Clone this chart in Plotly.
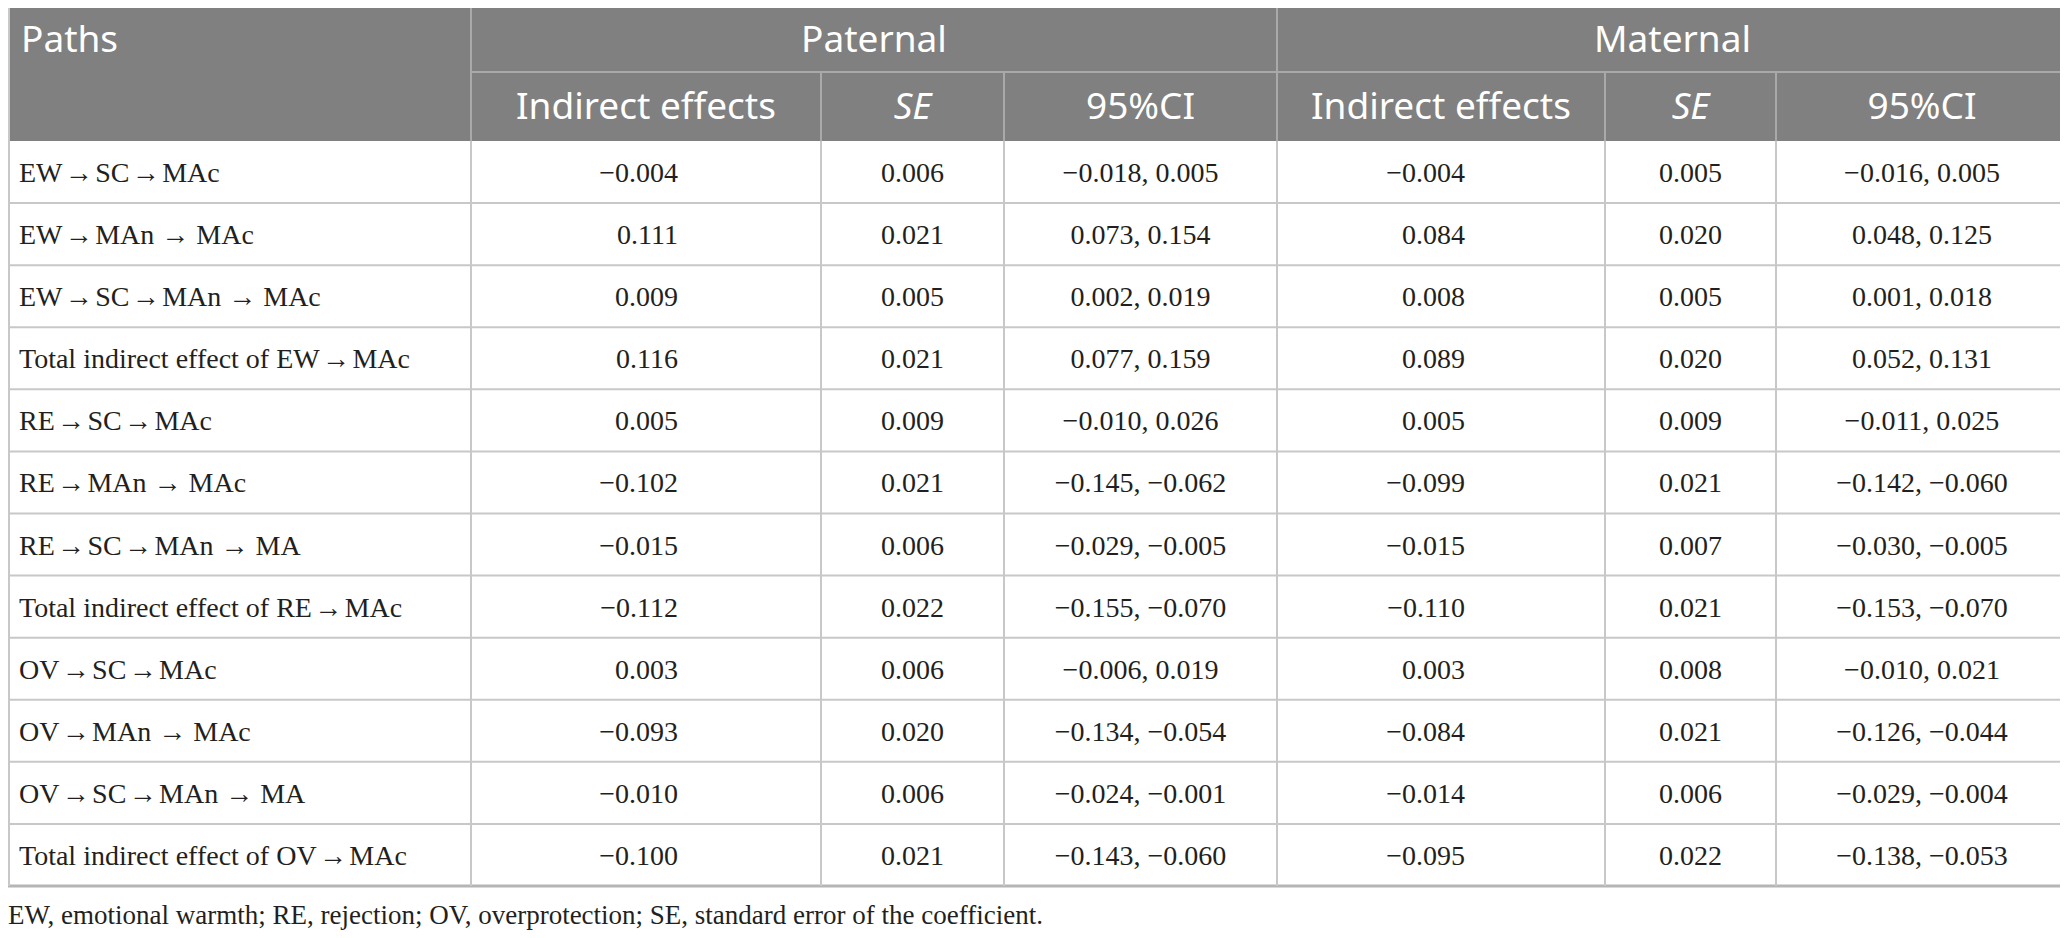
import plotly.graph_objects as go

# ---- table contents ----
A = "\u200a\u2192\u200a"   # tight arrow
B = " \u2192 "             # loose arrow
paths = [
    "EW" + A + "SC" + A + "MAc",
    "EW" + A + "MAn" + B + "MAc",
    "EW" + A + "SC" + A + "MAn" + B + "MAc",
    "Total indirect effect of EW" + A + "MAc",
    "RE" + A + "SC" + A + "MAc",
    "RE" + A + "MAn" + B + "MAc",
    "RE" + A + "SC" + A + "MAn" + B + "MA",
    "Total indirect effect of RE" + A + "MAc",
    "OV" + A + "SC" + A + "MAc",
    "OV" + A + "MAn" + B + "MAc",
    "OV" + A + "SC" + A + "MAn" + B + "MA",
    "Total indirect effect of OV" + A + "MAc",
]
pat_effect = ["−0.004", "0.111", "0.009", "0.116", "0.005", "−0.102",
              "−0.015", "−0.112", "0.003", "−0.093", "−0.010", "−0.100"]
pat_se = ["0.006", "0.021", "0.005", "0.021", "0.009", "0.021",
          "0.006", "0.022", "0.006", "0.020", "0.006", "0.021"]
pat_ci = ["−0.018, 0.005", "0.073, 0.154", "0.002, 0.019", "0.077, 0.159",
          "−0.010, 0.026", "−0.145, −0.062", "−0.029, −0.005", "−0.155, −0.070",
          "−0.006, 0.019", "−0.134, −0.054", "−0.024, −0.001", "−0.143, −0.060"]
mat_effect = ["−0.004", "0.084", "0.008", "0.089", "0.005", "−0.099",
              "−0.015", "−0.110", "0.003", "−0.084", "−0.014", "−0.095"]
mat_se = ["0.005", "0.020", "0.005", "0.020", "0.009", "0.021",
          "0.007", "0.021", "0.008", "0.021", "0.006", "0.022"]
mat_ci = ["−0.016, 0.005", "0.048, 0.125", "0.001, 0.018", "0.052, 0.131",
          "−0.011, 0.025", "−0.142, −0.060", "−0.030, −0.005", "−0.153, −0.070",
          "−0.010, 0.021", "−0.126, −0.044", "−0.029, −0.004", "−0.138, −0.053"]

groups = ["Paternal", "Maternal"]
sub_headers = ["Indirect effects", "<i>SE</i>", "95%CI"]
footnote = ("EW, emotional warmth; RE, rejection; OV, overprotection; "
            "SE, standard error of the coefficient.")

# ---- layout (pixels) ----
W, H = 2068, 938
OFF = 8  # page body margin, axes shifted so coords match page pixels
col_edges = [0, 471, 821, 1004, 1277, 1605, 1776, 2068]
head_top, head_mid, head_bot = 4, 72, 141
table_bot = 886
n_rows = len(paths)
row_h = (table_bot - head_bot) / n_rows
TY = 3  # small nudge so glyphs sit visually centred
row_y = [head_bot + row_h * (i + 0.5) + TY for i in range(n_rows)]

HEAD_BG = "#808080"
HEAD_LINE = "#a9a9a9"
GRID = "#c8c8c8"
TXT = "#231f20"
head_font = dict(family="Noto Sans", size=37, color="white")
body_font = dict(family="Liberation Serif", size=28, color=TXT)

fig = go.Figure()
shapes = []

# header background
shapes.append(dict(type="rect", x0=0, x1=W, y0=head_top, y1=head_bot,
                   fillcolor=HEAD_BG, line_width=0, layer="below"))
shapes.append(dict(type="line", x0=0, x1=W, y0=head_top, y1=head_top,
                   line=dict(color=GRID, width=2)))
shapes.append(dict(type="line", x0=col_edges[1], x1=W, y0=head_mid, y1=head_mid,
                   line=dict(color=HEAD_LINE, width=2)))
for x in (col_edges[1], col_edges[4]):
    shapes.append(dict(type="line", x0=x, x1=x, y0=head_top, y1=head_bot,
                       line=dict(color=HEAD_LINE, width=2)))
for x in (col_edges[2], col_edges[3], col_edges[5], col_edges[6]):
    shapes.append(dict(type="line", x0=x, x1=x, y0=head_mid, y1=head_bot,
                       line=dict(color=HEAD_LINE, width=2)))

# body grid
for i in range(1, n_rows):
    y = head_bot + row_h * i
    shapes.append(dict(type="line", x0=0, x1=W, y0=y, y1=y,
                       line=dict(color=GRID, width=2)))
shapes.append(dict(type="line", x0=0, x1=W, y0=table_bot, y1=table_bot,
                   line=dict(color="#b5b5b5", width=3)))
for x in col_edges[1:-1]:
    shapes.append(dict(type="line", x0=x, x1=x, y0=head_bot, y1=table_bot,
                       line=dict(color=GRID, width=2)))
for x in (OFF + 1, W - 1):
    shapes.append(dict(type="line", x0=x, x1=x, y0=head_top, y1=table_bot,
                       line=dict(color=GRID, width=2)))

# header texts
fig.add_trace(go.Scatter(x=[21], y=[40 + TY], text=["Paths"], mode="text",
                         textposition="middle right", textfont=head_font))
grp_x = [(col_edges[1] + col_edges[4]) / 2, (col_edges[4] + col_edges[7]) / 2]
fig.add_trace(go.Scatter(x=grp_x, y=[40 + TY] * 2, text=groups, mode="text",
                         textposition="middle center", textfont=head_font))
sub_x = [(col_edges[k] + col_edges[k + 1]) / 2 for k in range(1, 7)]
fig.add_trace(go.Scatter(x=sub_x, y=[107 + TY] * 6, text=sub_headers * 2,
                         mode="text", textposition="middle center",
                         textfont=head_font))

# body texts
fig.add_trace(go.Scatter(x=[19] * n_rows, y=row_y, text=paths, mode="text",
                         textposition="middle right", textfont=body_font))
for xr, col in ((678, pat_effect), (1465, mat_effect)):
    fig.add_trace(go.Scatter(x=[xr] * n_rows, y=row_y, text=col, mode="text",
                             textposition="middle left", textfont=body_font))
for k, col in ((2, pat_se), (3, pat_ci), (5, mat_se), (6, mat_ci)):
    xc = (col_edges[k] + col_edges[k + 1]) / 2
    fig.add_trace(go.Scatter(x=[xc] * n_rows, y=row_y, text=col, mode="text",
                             textposition="middle center", textfont=body_font))

# footnote
fig.add_trace(go.Scatter(x=[OFF], y=[917], text=[footnote], mode="text",
                         textposition="middle right", cliponaxis=False,
                         textfont=dict(family="Liberation Serif", size=27, color=TXT)))

fig.update_layout(
    width=W - OFF, height=H - OFF,
    margin=dict(l=0, r=0, t=0, b=0),
    paper_bgcolor="white", plot_bgcolor="white",
    showlegend=False, shapes=shapes,
    xaxis=dict(range=[OFF, W], visible=False, fixedrange=True),
    yaxis=dict(range=[H, OFF], visible=False, fixedrange=True),
    hovermode=False,
)

fig.write_html("out.html", config={"displayModeBar": False})
